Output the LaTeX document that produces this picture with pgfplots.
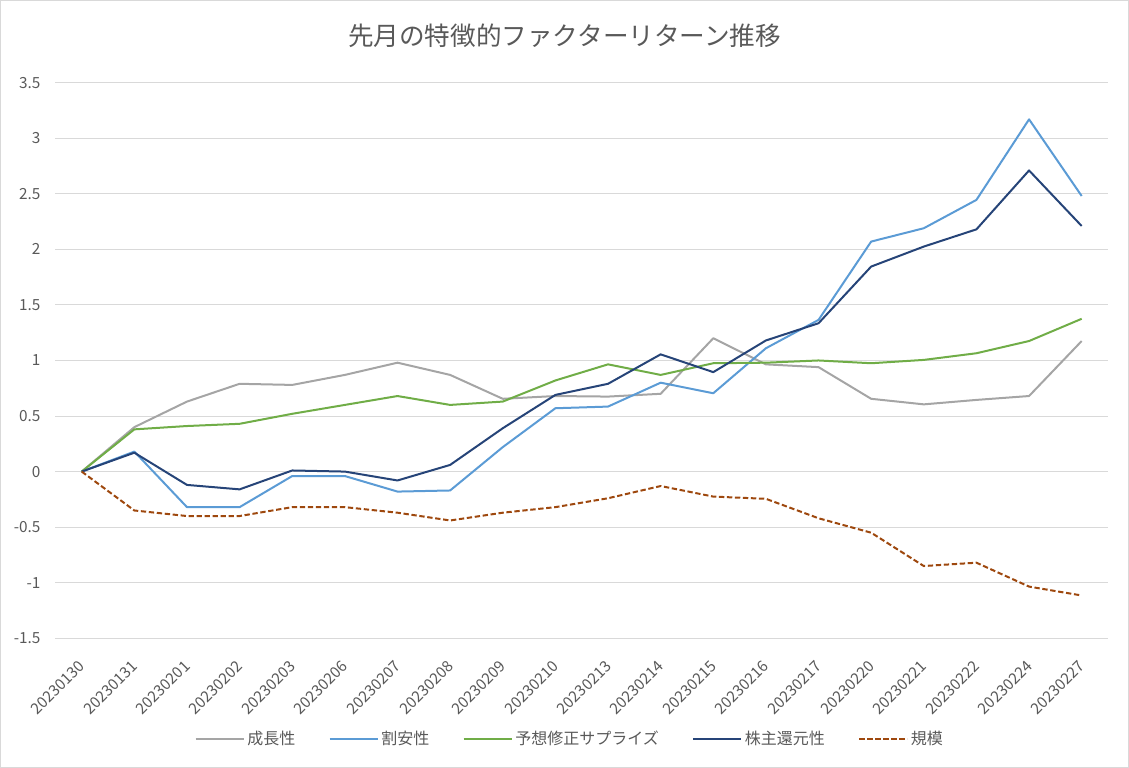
\documentclass[border=0pt]{standalone}
\usepackage{fontspec}
\setmainfont{Noto Sans CJK JP}
\usepackage{pgfplots}
\pgfplotsset{compat=1.18}
\usepackage{pgfplotstable}

\definecolor{txt}{HTML}{595959}
\definecolor{gridc}{HTML}{D9D9D9}
\definecolor{cGrow}{HTML}{A5A5A5}
\definecolor{cValue}{HTML}{5B9BD5}
\definecolor{cSurp}{HTML}{70AD47}
\definecolor{cRet}{HTML}{264478}
\definecolor{cSize}{HTML}{9E480E}

% i, 成長性, 割安性, 予想修正サプライズ, 株主還元性, 規模
\pgfplotstableread{
i  grow   value  surp   ret    size
0  0      0      0      0      0
1  0.40   0.18   0.38   0.17   -0.35
2  0.63   -0.32  0.41   -0.12  -0.40
3  0.79   -0.32  0.43   -0.16  -0.40
4  0.78   -0.04  0.52   0.01   -0.32
5  0.87   -0.04  0.60   0.00   -0.32
6  0.98   -0.18  0.68   -0.08  -0.37
7  0.87   -0.17  0.60   0.06   -0.44
8  0.655  0.22   0.63   0.39   -0.37
9  0.68   0.57   0.82   0.69   -0.32
10 0.675  0.585  0.965  0.79   -0.24
11 0.70   0.80   0.87   1.055  -0.13
12 1.20   0.705  0.975  0.895  -0.225
13 0.965  1.11   0.98   1.18   -0.245
14 0.94   1.365  1.00   1.335  -0.42
15 0.655  2.07   0.975  1.845  -0.55
16 0.605  2.19   1.005  2.025  -0.85
17 0.645  2.445  1.065  2.18   -0.82
18 0.68   3.17   1.175  2.71   -1.035
19 1.175  2.48   1.375  2.21   -1.115
}\factors

\begin{document}
\begin{tikzpicture}
\useasboundingbox (0,0) rectangle (846.75pt,576pt);
\draw[gridc, line width=0.75pt] (0.6pt,0.6pt) rectangle (846.15pt,575.4pt);
\node[txt, font=\fontsize{19.2}{22}\selectfont] at (423.4pt,549.4pt) {先月の特徴的ファクターリターン推移};
\begin{axis}[
  at={(41.55pt,97.3pt)}, anchor=south west,
  scale only axis, width=789.45pt, height=416.7pt,
  xmin=-0.5, xmax=19.5, ymin=-1.5, ymax=3.5,
  xtick={0,...,19},
  xticklabels={20230130,20230131,20230201,20230202,20230203,20230206,20230207,20230208,20230209,20230210,20230213,20230214,20230215,20230216,20230217,20230220,20230221,20230222,20230224,20230227},
  ytick={-1.5,-1,-0.5,0,0.5,1,1.5,2,2.5,3,3.5},
  axis line style={draw=none},
  major tick length=0pt,
  ymajorgrids, grid style={gridc, line width=0.75pt},
  ticklabel style={txt, font=\fontsize{11.5}{13}\selectfont, inner sep=0pt},
  /pgf/number format/assume math mode=true,
  /pgf/number format/fixed,
  yticklabel shift=11pt,
  xticklabel style={rotate=45, anchor=east, xshift=-13.3pt, yshift=-13.7pt},
  legend columns=5,
  legend style={draw=none, fill=none, at={(0.489,-0.181)}, anchor=center,
    font=\fontsize{12}{14}\selectfont, text=txt,
    /tikz/every even column/.append style={column sep=23pt},
    nodes={inner sep=2pt}},
  legend image code/.code={\draw[#1] (0pt,0pt) -- (36pt,0pt);},
  every axis plot/.append style={line width=1.5pt, line join=round},
]
\addplot[cGrow] table[x=i, y=grow] {\factors};
\addlegendentry{成長性}
\addplot[cValue] table[x=i, y=value] {\factors};
\addlegendentry{割安性}
\addplot[cSurp] table[x=i, y=surp] {\factors};
\addlegendentry{予想修正サプライズ}
\addplot[cRet] table[x=i, y=ret] {\factors};
\addlegendentry{株主還元性}
\addplot[cSize, dash pattern=on 4pt off 2pt] table[x=i, y=size] {\factors};
\addlegendentry{規模}
\end{axis}
\end{tikzpicture}
\end{document}
